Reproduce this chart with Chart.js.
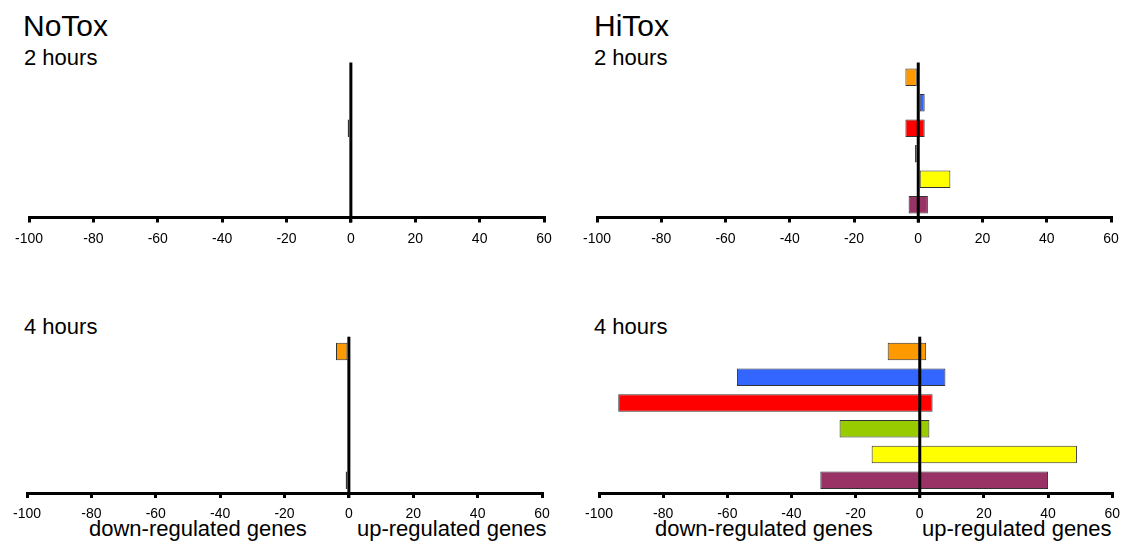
<!DOCTYPE html>
<html>
<head>
<meta charset="utf-8">
<script src="https://cdn.jsdelivr.net/npm/chart.js@4.4.1/dist/chart.umd.min.js"></script>
<style>
    body { margin: 0; background: #fff; font-family: "Liberation Sans", Arial, sans-serif; }
    #page { position: relative; width: 1128px; height: 549px; overflow: hidden; }
    .txt { position: absolute; line-height: 1; color: #000; white-space: nowrap; }
    .title { font-size: 30px; }
    .sub { font-size: 22px; }
    canvas { position: absolute; }
</style>
</head>
<body>
<div id="page">
    <div class="txt title" style="left:23px; top:11px;">NoTox</div>
    <div class="txt title" style="left:594px; top:11px;">HiTox</div>
    <div class="txt sub" style="left:24px; top:47px;">2 hours</div>
    <div class="txt sub" style="left:594px; top:47px;">2 hours</div>
    <div class="txt sub" style="left:24px; top:316px;">4 hours</div>
    <div class="txt sub" style="left:594px; top:316px;">4 hours</div>
    <div class="txt sub" style="left:89px; top:518px;">down-regulated genes</div>
    <div class="txt sub" style="left:357px; top:518px;">up-regulated genes</div>
    <div class="txt sub" style="left:655px; top:518px;">down-regulated genes</div>
    <div class="txt sub" style="left:922px; top:518px;">up-regulated genes</div>

    <canvas id="noTox2h" width="564" height="220" style="left:0; top:40px;"></canvas>
    <canvas id="hiTox2h" width="564" height="220" style="left:564px; top:40px;"></canvas>
    <canvas id="noTox4h" width="564" height="220" style="left:0; top:316px;"></canvas>
    <canvas id="hiTox4h" width="564" height="220" style="left:564px; top:316px;"></canvas>
</div>

<script>
// gene groups, top to bottom
const groups = ['Group 1', 'Group 2', 'Group 3', 'Group 4', 'Group 5', 'Group 6'];
const groupColors = ['#ff9900', '#3366ff', '#ff0000', '#99cc00', '#ffff00', '#993366'];

const xTicks = [-100, -80, -60, -40, -20, 0, 20, 40, 60];

// number of down- / up-regulated genes per group
const noTox2hDown = [0, 0, -1, 0, 0, 0];
const noTox2hUp   = [0, 0, 0, 0, 0, 0];
const noTox4hDown = [-4, 0, 0, 0, 0, -1];
const noTox4hUp   = [0, 0, 0, 0, 0, 0];
const hiTox2hDown = [-4, 0, -4, -1, 0, -3];
const hiTox2hUp   = [0, 2, 2, 0, 10, 3];
const hiTox4hDown = [-10, -57, -94, -25, -15, -31];
const hiTox4hUp   = [2, 8, 4, 3, 49, 40];

document.addEventListener('DOMContentLoaded', function() {
    drawPanel('noTox2h', noTox2hDown, noTox2hUp, { left: 29, right: 20, top: 24.5, bottom: 12.5 });
    drawPanel('hiTox2h', hiTox2hDown, hiTox2hUp, { left: 33, right: 17, top: 24.5, bottom: 12.5 });
    drawPanel('noTox4h', noTox4hDown, noTox4hUp, { left: 27, right: 22, top: 22.7, bottom: 13 });
    drawPanel('hiTox4h', hiTox4hDown, hiTox4hUp, { left: 35, right: 15, top: 22.7, bottom: 13 });
});

// vertical line at zero, drawn over the bars
const zeroLine = {
    id: 'zeroLine',
    afterDatasetsDraw(chart) {
        const ctx = chart.ctx;
        const x = chart.scales.x.getPixelForValue(0);
        const area = chart.chartArea;
        ctx.save();
        ctx.strokeStyle = '#000';
        ctx.lineWidth = 3;
        ctx.beginPath();
        ctx.moveTo(x, area.top - 2);
        ctx.lineTo(x, area.bottom + 5);
        ctx.stroke();
        ctx.restore();
    }
};

function drawPanel(id, down, up, padding) {
    const ctx = document.getElementById(id).getContext('2d');
    const bars = down.map((d, i) => (d === 0 && up[i] === 0) ? null : [d, up[i]]);

    new Chart(ctx, {
        type: 'bar',
        data: {
            labels: groups,
            datasets: [{
                data: bars,
                backgroundColor: groupColors,
                borderColor: '#333',
                borderWidth: 1,
                borderSkipped: false,
                barPercentage: 0.68,
                categoryPercentage: 1
            }]
        },
        options: {
            indexAxis: 'y',
            responsive: false,
            animation: false,
            layout: { padding: padding },
            plugins: {
                legend: { display: false },
                tooltip: { enabled: false }
            },
            scales: {
                x: {
                    min: -100,
                    max: 60,
                    afterFit: scale => { scale.height = 30; },
                    afterBuildTicks: scale => { scale.ticks = xTicks.map(v => ({ value: v })); },
                    grid: {
                        drawOnChartArea: false,
                        drawTicks: true,
                        tickLength: 5,
                        lineWidth: 3,
                        tickColor: '#000',
                        color: '#000'
                    },
                    border: { display: true, color: '#000', width: 3 },
                    ticks: {
                        autoSkip: false,
                        maxRotation: 0,
                        padding: 8,
                        color: '#000',
                        font: { family: '"Liberation Sans", Arial, sans-serif', size: 14 }
                    }
                },
                y: { display: false }
            }
        },
        plugins: [zeroLine]
    });
}
</script>
</body>
</html>
